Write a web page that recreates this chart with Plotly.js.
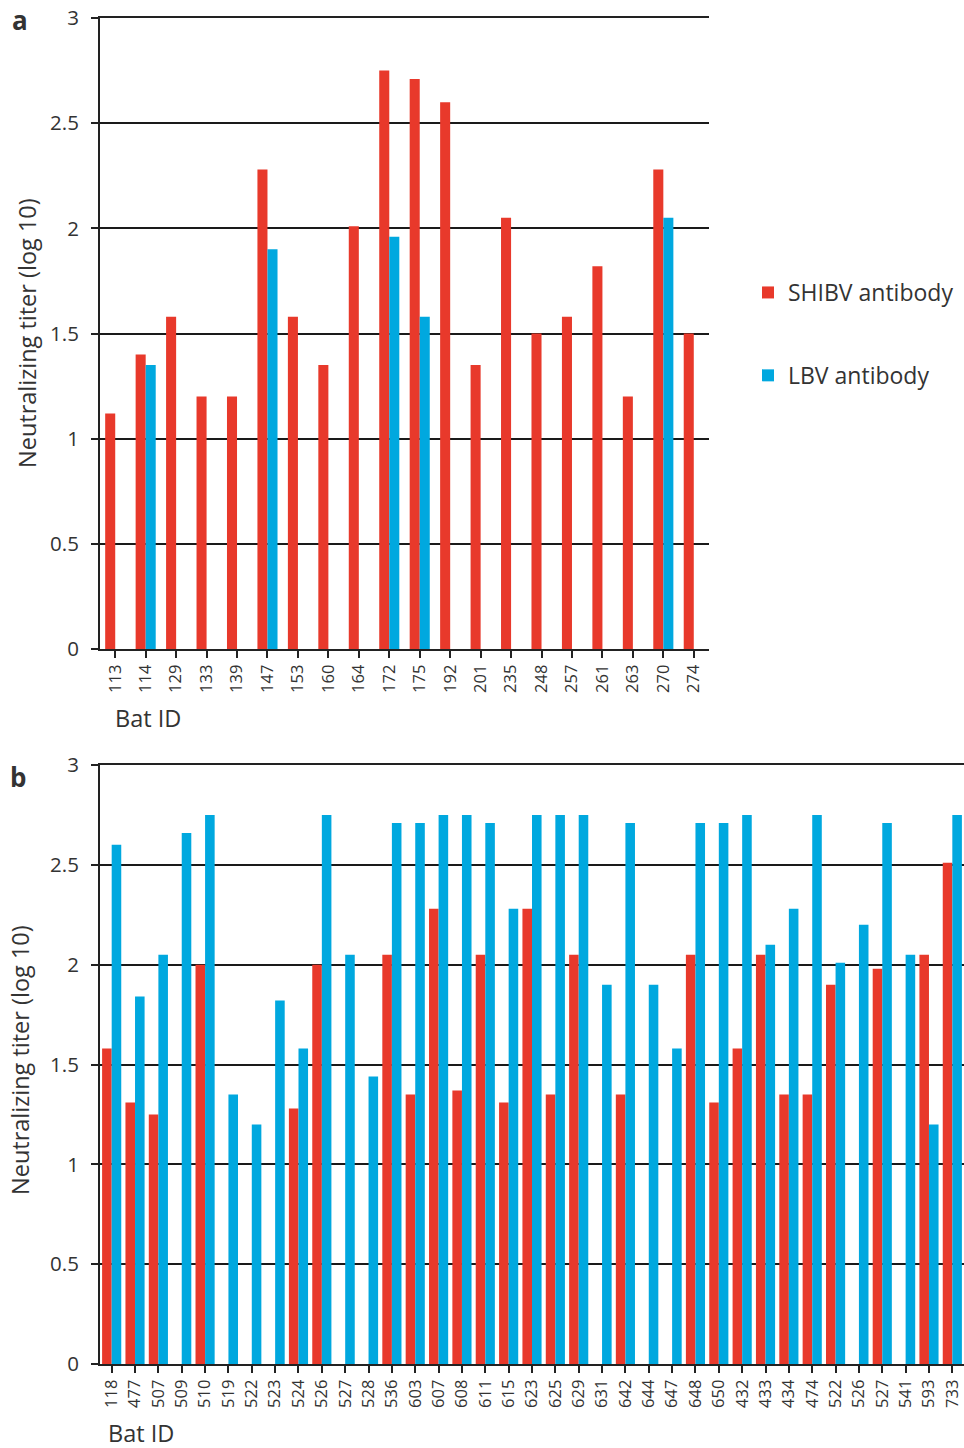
<!DOCTYPE html>
<html>
<head>
<meta charset="utf-8">
<script src="https://cdn.plot.ly/plotly-3.0.1.min.js"></script>
<style>html,body{margin:0;padding:0;background:#fff;}#chart{width:964px;height:1448px;}</style>
</head>
<body>
<div id="chart"></div>
<script>
// ---- Panel a data ----
const batIdsA = ["113","114","129","133","139","147","153","160","164","172","175","192","201","235","248","257","261","263","270","274"];
const shibvA = [1.12,1.40,1.58,1.20,1.20,2.28,1.58,1.35,2.01,2.75,2.71,2.60,1.35,2.05,1.50,1.58,1.82,1.20,2.28,1.50];
const lbvA   = [null,1.35,null,null,null,1.90,null,null,null,1.96,1.58,null,null,null,null,null,null,null,2.05,null];

// ---- Panel b data ----
const batIdsB = ["118","477","507","509","510","519","522","523","524","526","527","528","536","603","607","608","611","615","623","625","629","631","642","644","647","648","650","432","433","434","474","522","526","527","541","593","733"];
const shibvB = [1.58,1.31,1.25,null,2.00,null,null,null,1.28,2.00,null,null,2.05,1.35,2.28,1.37,2.05,1.31,2.28,1.35,2.05,null,1.35,null,null,2.05,1.31,1.58,2.05,1.35,1.35,1.90,null,1.98,null,2.05,2.51];
const lbvB   = [2.60,1.84,2.05,2.66,2.75,1.35,1.20,1.82,1.58,2.75,2.05,1.44,2.71,2.71,2.75,2.75,2.71,2.28,2.75,2.75,2.75,1.90,2.71,1.90,1.58,2.71,2.71,2.75,2.10,2.28,2.75,2.01,2.20,2.71,2.05,1.20,2.75];

const yTicks = [0,0.5,1,1.5,2,2.5,3];

const RED = "#E8392B";
const BLUE = "#00A8DF";
const FONT = "'Open Sans', Lato, sans-serif";
const TXT = "#333333";

const W = 964, H = 1448;
const idxA = batIdsA.map((_, i) => i);
const idxB = batIdsB.map((_, i) => i);

const wA = 0.33, wB = 0.41;

const traces = [
  {type:"bar", x:idxA, y:shibvA, name:"SHIBV antibody", marker:{color:RED}, width:wA, offset:-wA, xaxis:"x", yaxis:"y", legendgroup:"s", showlegend:true, hoverinfo:"y"},
  {type:"bar", x:idxA, y:lbvA, name:"LBV antibody", marker:{color:BLUE}, width:wA, offset:0, xaxis:"x", yaxis:"y", legendgroup:"l", showlegend:true, hoverinfo:"y"},
  {type:"bar", x:idxB, y:shibvB, name:"SHIBV antibody", marker:{color:RED}, width:wB, offset:-wB, xaxis:"x2", yaxis:"y2", legendgroup:"s", showlegend:false, hoverinfo:"y"},
  {type:"bar", x:idxB, y:lbvB, name:"LBV antibody", marker:{color:BLUE}, width:wB, offset:0, xaxis:"x2", yaxis:"y2", legendgroup:"l", showlegend:false, hoverinfo:"y"}
];

function px2x(p){ return p / W; }
function px2y(p){ return 1 - p / H; }

const commonX = {
  ticks:"outside", ticklen:7, tickwidth:2, tickcolor:"#222", tickson:"boundaries",
  showline:true, mirror:true, linecolor:"#222", linewidth:2, showgrid:false, zeroline:false,
  tickangle:-90, tickfont:{family:FONT, size:16.5, color:TXT}, fixedrange:true
};
const commonY = {
  range:[0,3], tickvals:yTicks, ticktext:yTicks.map(String),
  ticks:"outside", ticklen:7, tickwidth:2, tickcolor:"#222", ticklabelstandoff:8,
  showline:true, linecolor:"#222", linewidth:2,
  showgrid:true, gridcolor:"#1a1a1a", gridwidth:2, zeroline:false,
  tickfont:{family:FONT, size:20.5, color:TXT}, fixedrange:true
};

const layout = {
  width:W, height:H,
  margin:{l:0,r:0,t:0,b:0},
  paper_bgcolor:"#fff", plot_bgcolor:"#fff",
  barmode:"overlay",
  showlegend:true,
  legend:{x:px2x(748), y:px2y(271), xanchor:"left", yanchor:"top",
          font:{family:FONT, size:23, color:TXT}, traceorder:"grouped", tracegroupgap:50,
          bgcolor:"rgba(0,0,0,0)", itemwidth:30},
  xaxis: Object.assign({}, commonX, {domain:[px2x(100), px2x(709)], range:[-0.5, batIdsA.length-0.5],
          tickvals:idxA, ticktext:batIdsA, anchor:"y"}),
  yaxis: Object.assign({}, commonY, {domain:[px2y(649), px2y(18)], anchor:"x"}),
  xaxis2: Object.assign({}, commonX, {domain:[px2x(100), 1], range:[-0.5, batIdsB.length-0.5],
          tickvals:idxB, ticktext:batIdsB, anchor:"y2"}),
  yaxis2: Object.assign({}, commonY, {domain:[px2y(1364), px2y(765)], anchor:"x2"}),
  annotations:[
    {text:"<b>a</b>", xref:"paper", yref:"paper", x:px2x(10), y:px2y(20), xanchor:"left", yanchor:"middle", showarrow:false, font:{family:FONT, size:26, color:TXT}},
    {text:"<b>b</b>", xref:"paper", yref:"paper", x:px2x(8), y:px2y(777), xanchor:"left", yanchor:"middle", showarrow:false, font:{family:FONT, size:26, color:TXT}},
    {text:"Neutralizing titer (log 10)", xref:"paper", yref:"paper", x:px2x(27), y:px2y(333), xanchor:"center", yanchor:"middle", textangle:-90, showarrow:false, font:{family:FONT, size:23.5, color:TXT}},
    {text:"Neutralizing titer (log 10)", xref:"paper", yref:"paper", x:px2x(20), y:px2y(1060), xanchor:"center", yanchor:"middle", textangle:-90, showarrow:false, font:{family:FONT, size:23.5, color:TXT}},
    {text:"Bat ID", xref:"paper", yref:"paper", x:px2x(113), y:px2y(718), xanchor:"left", yanchor:"middle", showarrow:false, font:{family:FONT, size:23.5, color:TXT}},
    {text:"Bat ID", xref:"paper", yref:"paper", x:px2x(106), y:px2y(1433), xanchor:"left", yanchor:"middle", showarrow:false, font:{family:FONT, size:23.5, color:TXT}}
  ]
};

Plotly.newPlot("chart", traces, layout, {displayModeBar:false, staticPlot:true});
</script>
</body>
</html>
